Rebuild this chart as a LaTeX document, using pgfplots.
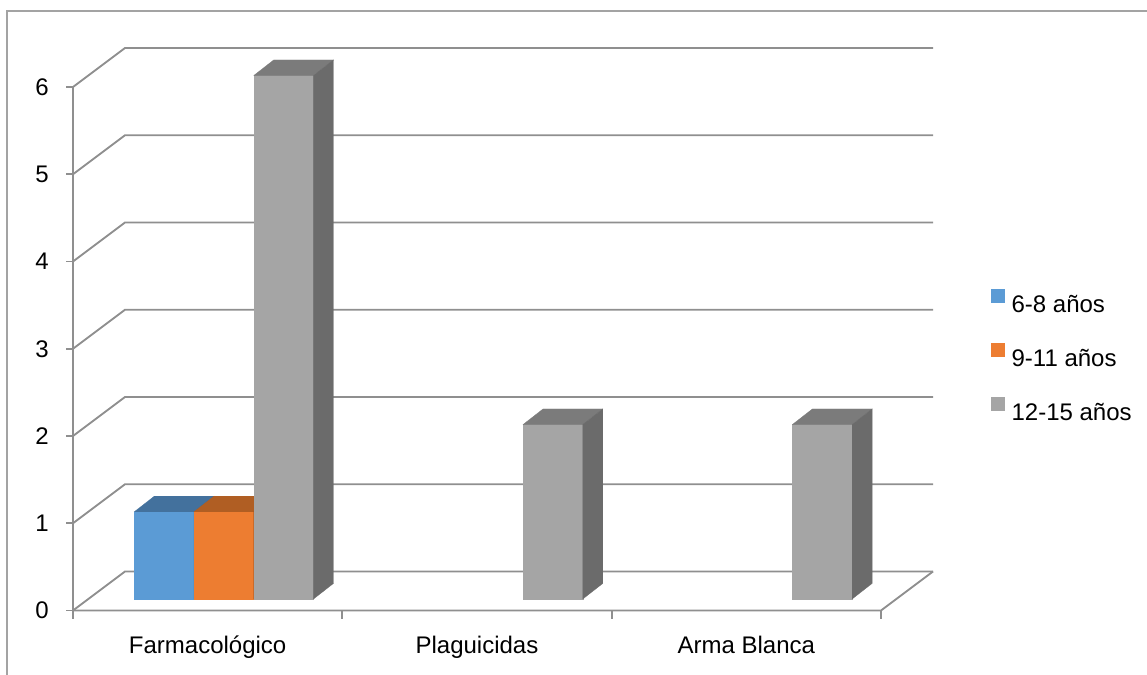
\documentclass[border=0pt]{standalone}
\usepackage{pgfplots}
\usepackage{pgfplotstable}
\pgfplotsset{compat=1.18}
\usepackage{fontspec}
\setmainfont{Liberation Sans}

% face colours: front / top / side
\definecolor{bluef}{HTML}{5B9BD5}\definecolor{bluet}{HTML}{43719D}\definecolor{blues}{HTML}{3B6690}
\definecolor{orangef}{HTML}{ED7D31}\definecolor{oranget}{HTML}{B05E23}\definecolor{oranges}{HTML}{9E5420}
\definecolor{grayf}{HTML}{A5A5A5}\definecolor{grayt}{HTML}{7B7B7B}\definecolor{grays}{HTML}{6B6B6B}
\definecolor{gridc}{HTML}{8F8F8F}
\definecolor{framec}{HTML}{A3A3A3}

% cases per category and age group
\pgfplotstableread{
idx s1 s2 s3
0   1  1  6
1   0  0  2
2   0  0  2
}\datatable

% geometry of the 3-D box, in axis units
\def\gl{0.171}    % gap before the first bar of a group
\def\bw{0.2217}   % bar width
\def\ox{0.0568}   % bar plane offset (x)
\def\oy{0.1318}   % bar plane offset (y)
\def\dx{0.0743}   % bar depth (x)
\def\dy{0.1788}   % bar depth (y)
\def\bx{0.1931}   % back wall offset (x)
\def\by{0.447}    % back wall offset (y)

% #1 category, #2 series, #3 value, #4 front, #5 top, #6 side colour
\newcommand\drawbar[6]{%
  \pgfmathsetmacro\xl{#1+\gl+#2*\bw+\ox}%
  \pgfmathsetmacro\xr{\xl+\bw}%
  \pgfmathsetmacro\yb{\oy}%
  \pgfmathsetmacro\yt{\oy+#3}%
  \pgfmathsetmacro\xlb{\xl+\dx}%
  \pgfmathsetmacro\xrb{\xr+\dx}%
  \pgfmathsetmacro\ybb{\yb+\dy}%
  \pgfmathsetmacro\ytb{\yt+\dy}%
  \edef\next{%
    \noexpand\addplot[forget plot, draw=#4, line width=0.2pt, fill=#4]
      coordinates {(\xl,\yb) (\xr,\yb) (\xr,\yt) (\xl,\yt)} -- cycle;
    \noexpand\addplot[forget plot, draw=#5, line width=0.2pt, fill=#5]
      coordinates {(\xl,\yt) (\xr,\yt) (\xrb,\ytb) (\xlb,\ytb)} -- cycle;
    \noexpand\addplot[forget plot, draw=#6, line width=0.2pt, fill=#6]
      coordinates {(\xr,\yb) (\xrb,\ybb) (\xrb,\ytb) (\xr,\yt)} -- cycle;
  }\next
}
% #1 row, #2 column, #3 series index, #4-#6 colours
\newcommand\barfromtable[6]{%
  \pgfplotstablegetelem{#1}{#2}\of\datatable
  \ifdim\pgfplotsretval pt>0pt
    \drawbar{#1}{#3}{\pgfplotsretval}{#4}{#5}{#6}%
  \fi
}

\begin{document}
\begin{tikzpicture}
\useasboundingbox (0pt,0pt) rectangle (860.25pt,-506.25pt);
% chart frame
\draw[framec, line width=1.1pt] (5.25pt,-520pt) -- (5.25pt,-8.25pt) -- (880pt,-8.25pt);
\begin{axis}[
  at={(54.75pt,-457.875pt)}, anchor=south west,
  width=606pt, height=392.625pt, scale only axis,
  xmin=0, xmax=3, ymin=0, ymax=6,
  clip=false,
  axis line style={draw=none},
  major tick length=0pt,
  ytick={0,...,6},
  xtick={0.5,1.5,2.5},
  xticklabels={Farmacológico,Plaguicidas,Arma Blanca},
  /pgf/number format/assume math mode=true,
  ticklabel style={font=\fontsize{18}{21}\selectfont},
  yticklabel style={anchor=east, inner sep=0pt, xshift=-18pt},
  xticklabel style={anchor=base, inner sep=0pt, yshift=-32.6pt},
  legend image code/.code={\fill[#1, draw=none] (0pt,0.5pt) rectangle (10.5pt,11pt); \path (15.5pt,0pt);},
  legend cell align=left,
  legend style={at={(1.1361,0.6141)}, anchor=north west, draw=none, fill=none,
    inner sep=0pt, outer sep=0pt, row sep=23.25pt, column sep=0pt,
    font=\fontsize{18}{21}\selectfont,
    nodes={inner sep=0pt, text height=12.75pt, text depth=0pt}},
]
% walls and floor
\pgfplotsinvokeforeach{0,...,6}{
  \draw[gridc, line width=1.4pt] (axis cs:0,#1) -- (axis cs:\bx,#1+\by) -- (axis cs:3+\bx,#1+\by);
  \draw[gridc, line width=1.4pt] (axis cs:0,#1) -- ++(-5.25pt,0pt);
}
\draw[gridc, line width=1.4pt] (axis cs:0,6) -- (axis cs:0,0) -- (axis cs:3,0) -- (axis cs:3+\bx,\by);
\pgfplotsinvokeforeach{0,...,3}{
  \draw[gridc, line width=1.4pt] (axis cs:#1,0) -- ++(0pt,-6.4pt);
}
% bars
\pgfplotsinvokeforeach{0,1,2}{
  \barfromtable{#1}{s1}{0}{bluef}{bluet}{blues}
  \barfromtable{#1}{s2}{1}{orangef}{oranget}{oranges}
  \barfromtable{#1}{s3}{2}{grayf}{grayt}{grays}
}
\addlegendimage{fill=bluef, draw=none}\addlegendentry{6-8 años}
\addlegendimage{fill=orangef, draw=none}\addlegendentry{9-11 años}
\addlegendimage{fill=grayf, draw=none}\addlegendentry{12-15 años}
\end{axis}
\end{tikzpicture}
\end{document}
